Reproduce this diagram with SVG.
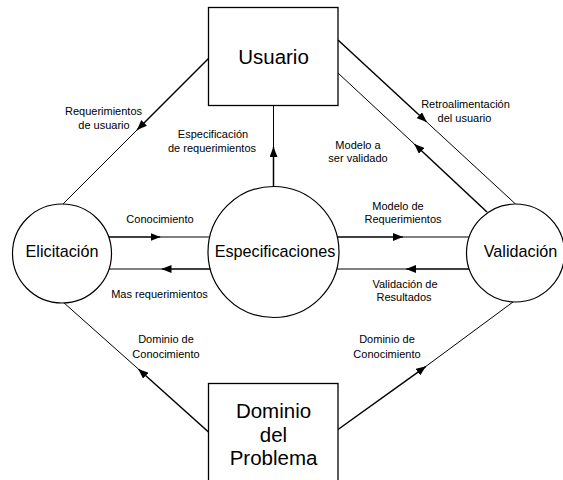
<svg xmlns="http://www.w3.org/2000/svg" width="563" height="480" viewBox="0 0 563 480">
  <style>
    .box { fill: #ffffff; stroke: #000000; stroke-width: 1.3; }
    .circ { fill: #ffffff; stroke: #000000; stroke-width: 1.2; }
    .big { font-family: "Liberation Sans", Arial, sans-serif; font-size: 20.5px; fill: #000000; text-anchor: middle; }
    .mid { font-family: "Liberation Sans", Arial, sans-serif; font-size: 16.2px; fill: #000000; text-anchor: middle; }
    .lbl { font-family: "Liberation Sans", Arial, sans-serif; font-size: 11px; fill: #000000; text-anchor: middle; }
    .head { fill: none; stroke: #000000; stroke-width: 1.5; }
    .tail { fill: none; stroke: #000000; stroke-width: 1; }
  </style>
  <defs>
    <marker id="arrow" viewBox="0 0 10 8" refX="10" refY="4" markerWidth="10" markerHeight="8" markerUnits="userSpaceOnUse" orient="auto">
      <path d="M0,0 L10,4 L0,8 z" fill="#000000"/>
    </marker>
  </defs>

  <!-- connectors: source-to-arrow segment (heavier) then arrow-to-target segment -->
  <g id="connectors">
    <!-- Usuario -> Elicitacion -->
    <line class="head" x1="209" y1="58" x2="137" y2="130" marker-end="url(#arrow)"/>
    <line class="tail" x1="137" y1="130" x2="63" y2="204"/>
    <!-- Usuario -> Validacion (retroalimentacion) -->
    <line class="head" x1="338" y1="40" x2="426.7" y2="122" marker-end="url(#arrow)"/>
    <line class="tail" x1="426.7" y1="122" x2="515.5" y2="204"/>
    <!-- Validacion -> Usuario (modelo a ser validado) -->
    <line class="head" x1="487" y1="212" x2="414.3" y2="144" marker-end="url(#arrow)"/>
    <line class="tail" x1="414.3" y1="144" x2="338" y2="73"/>
    <!-- Especificaciones -> Usuario -->
    <line class="head" x1="273.5" y1="186.5" x2="273.5" y2="147" marker-end="url(#arrow)"/>
    <line class="tail" x1="273.5" y1="147" x2="273.5" y2="105.5"/>
    <!-- Elicitacion -> Especificaciones -->
    <line class="head" x1="109" y1="237" x2="160.5" y2="237" marker-end="url(#arrow)"/>
    <line class="tail" x1="160.5" y1="237" x2="210" y2="237"/>
    <!-- Especificaciones -> Elicitacion -->
    <line class="head" x1="210" y1="269" x2="161.5" y2="269" marker-end="url(#arrow)"/>
    <line class="tail" x1="161.5" y1="269" x2="109" y2="269"/>
    <!-- Especificaciones -> Validacion -->
    <line class="head" x1="337.3" y1="237" x2="403" y2="237" marker-end="url(#arrow)"/>
    <line class="tail" x1="403" y1="237" x2="469.2" y2="237"/>
    <!-- Validacion -> Especificaciones -->
    <line class="head" x1="469.2" y1="269" x2="406" y2="269" marker-end="url(#arrow)"/>
    <line class="tail" x1="406" y1="269" x2="337" y2="269"/>
    <!-- Dominio -> Elicitacion -->
    <line class="head" x1="208.5" y1="432" x2="138.3" y2="369" marker-end="url(#arrow)"/>
    <line class="tail" x1="138.3" y1="369" x2="63" y2="302"/>
    <!-- Dominio -> Validacion -->
    <line class="head" x1="338" y1="429.5" x2="426" y2="366.3" marker-end="url(#arrow)"/>
    <line class="tail" x1="426" y1="366.3" x2="513" y2="302"/>
  </g>

  <!-- connector labels -->
  <g id="labels">
    <text class="lbl" x="103.5" y="115">Requerimientos</text>
    <text class="lbl" x="104" y="129">de usuario</text>
    <text class="lbl" x="213" y="138">Especificación</text>
    <text class="lbl" x="212" y="152">de requerimientos</text>
    <text class="lbl" x="465.5" y="108">Retroalimentación</text>
    <text class="lbl" x="464.5" y="121.5">del usuario</text>
    <text class="lbl" x="358" y="149">Modelo a</text>
    <text class="lbl" x="358" y="162">ser validado</text>
    <text class="lbl" x="160" y="223">Conocimiento</text>
    <text class="lbl" x="159.5" y="298">Mas requerimientos</text>
    <text class="lbl" x="398" y="209.5">Modelo de</text>
    <text class="lbl" x="403" y="223">Requerimientos</text>
    <text class="lbl" x="405" y="287.5">Validación de</text>
    <text class="lbl" x="404" y="301">Resultados</text>
    <text class="lbl" x="166" y="343">Dominio de</text>
    <text class="lbl" x="166" y="357.5">Conocimiento</text>
    <text class="lbl" x="387" y="343">Dominio de</text>
    <text class="lbl" x="387" y="357.5">Conocimiento</text>
  </g>

  <g id="usuario">
    <rect class="box" x="208.5" y="7.5" width="129.5" height="98"/>
    <text class="big" x="273.5" y="63.5">Usuario</text>
  </g>

  <g id="elicitacion">
    <circle class="circ" cx="62" cy="253.5" r="49.5"/>
    <text class="mid" x="62" y="257">Elicitación</text>
  </g>

  <g id="especificaciones">
    <circle class="circ" cx="273.5" cy="252" r="65.5"/>
    <text class="mid" x="275" y="257">Especificaciones</text>
  </g>

  <g id="validacion">
    <circle class="circ" cx="515.5" cy="253" r="49"/>
    <text class="mid" x="520.5" y="257">Validación</text>
  </g>

  <g id="dominio">
    <rect class="box" x="208.5" y="383.5" width="129.5" height="110"/>
    <text class="big" x="273.5" y="418">Dominio</text>
    <text class="big" x="273.5" y="441.5">del</text>
    <text class="big" x="273.5" y="465">Problema</text>
  </g>
</svg>
